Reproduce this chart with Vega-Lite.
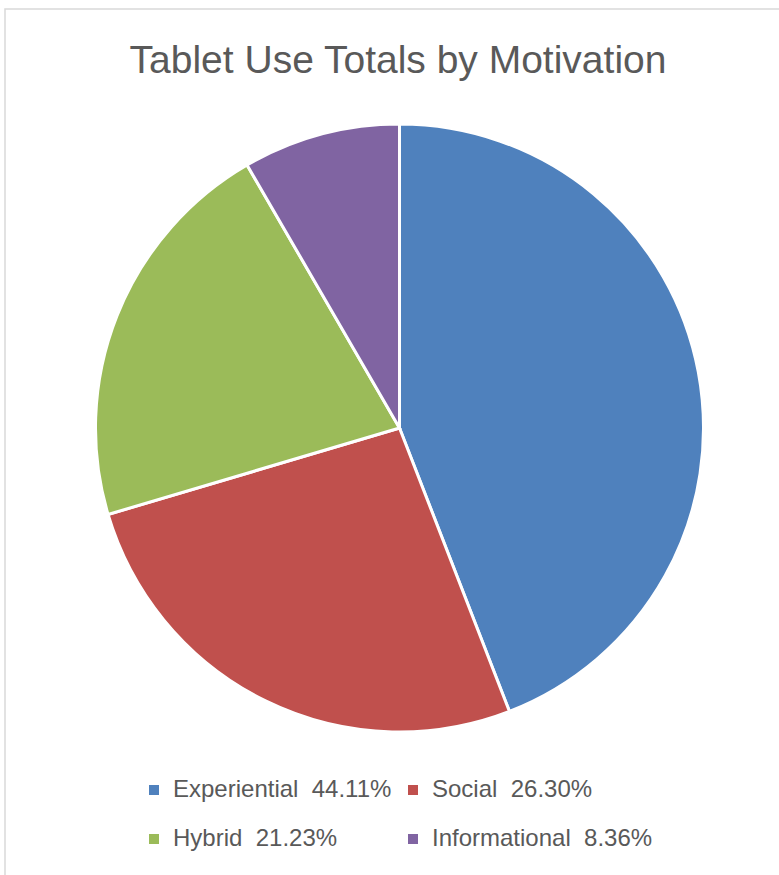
{
  "$schema": "https://vega.github.io/schema/vega-lite/v6.json",
  "autosize": {"type": "none"},
  "padding": {"left": 5, "top": 9, "right": 0, "bottom": 0},
  "width": 774,
  "height": 866,
  "background": "white",
  "config": {
    "view": {"stroke": null},
    "font": "Liberation Sans"
  },
  "title": {
    "text": "Tablet Use Totals by Motivation",
    "anchor": "middle",
    "frame": "group",
    "orient": "top",
    "offset": -104,
    "baseline": "alphabetic",
    "dx": 6,
    "font": "Liberation Sans",
    "fontSize": 39,
    "fontWeight": "normal",
    "color": "#595959"
  },
  "data": {
    "values": [
      {"category": "Experiential\u00a0 44.11%", "value": 44.11, "order": 1},
      {"category": "Social\u00a0 26.30%", "value": 26.30, "order": 2},
      {"category": "Hybrid\u00a0 21.23%", "value": 21.23, "order": 3},
      {"category": "Informational\u00a0 8.36%", "value": 8.36, "order": 4}
    ]
  },
  "layer": [
    {
      "data": {"values": [{"frame": 1}]},
      "mark": {
        "type": "rect",
        "fill": "transparent",
        "stroke": "#d9d9d9",
        "strokeWidth": 1.5,
        "x": 0,
        "y": 0,
        "x2": {"expr": "width + 10"},
        "y2": {"expr": "height + 10"}
      },
      "encoding": {}
    },
    {
      "mark": {
        "type": "arc",
        "outerRadius": 304,
        "stroke": "white",
        "strokeWidth": 3,
        "x": {"expr": "width/2 + 7.5"},
        "y": {"expr": "height/2 - 14"}
      },
      "encoding": {
        "theta": {"field": "value", "type": "quantitative", "stack": true},
        "order": {"field": "order", "type": "quantitative"},
        "color": {
          "field": "category",
          "type": "nominal",
          "scale": {
            "domain": ["Experiential\u00a0 44.11%", "Social\u00a0 26.30%", "Hybrid\u00a0 21.23%", "Informational\u00a0 8.36%"],
            "range": ["#4F81BD", "#C0504D", "#9BBB59", "#8064A2"]
          },
          "legend": {
            "title": null,
            "orient": "none",
            "legendX": 137,
            "legendY": 769,
            "direction": "horizontal",
            "columns": 2,
            "columnPadding": 9,
            "rowPadding": 25,
            "labelLimit": 400,
            "symbolType": "square",
            "symbolSize": 100,
            "symbolStrokeWidth": 0,
            "labelFontSize": 24,
            "labelFont": "Liberation Sans",
            "labelColor": "#595959",
            "labelOffset": 7
          }
        }
      }
    }
  ]
}
